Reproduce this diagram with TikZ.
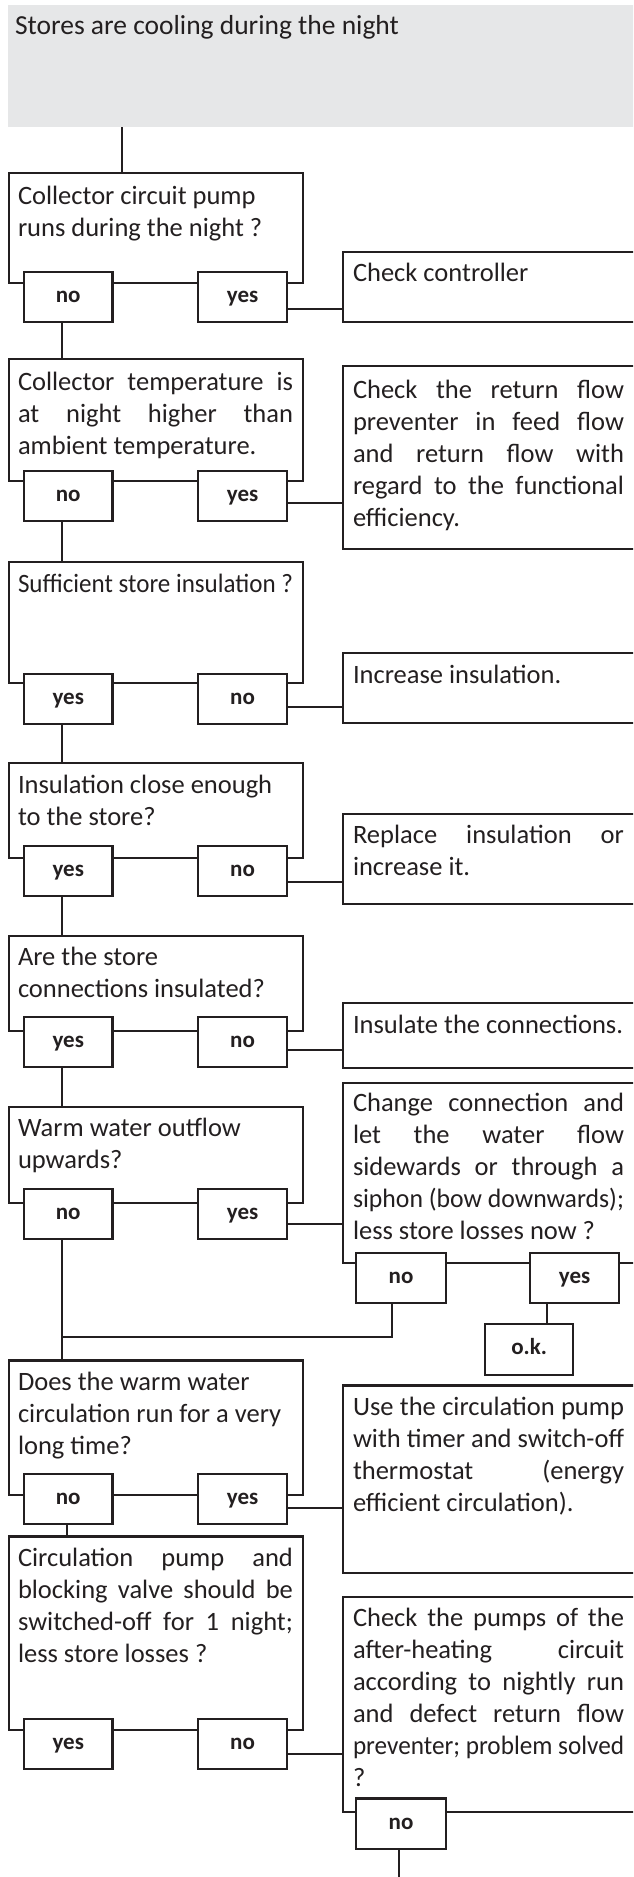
\documentclass[tikz,border=0pt]{standalone}
\usepackage{fontspec}
\usepackage{graphicx}
\setmainfont{Carlito}
\definecolor{ink}{HTML}{231F20}
\definecolor{headgray}{HTML}{E6E7E8}
\newcommand{\fst}{\spaceskip=0pt\xspaceskip=0pt\relax\rule{0pt}{22pt}}
\newcommand{\jline}[2]{\sbox0{#2}\ifdim\wd0>#1\relax\resizebox{#1}{\height}{#2}\else\makebox[#1][s]{\spaceskip=\fontdimen2\font plus 1fil\relax #2}\fi}
\newcommand{\qj}[1]{\jline{275pt}{#1}}
\newcommand{\aj}[1]{\jline{271pt}{#1}}
\begin{document}
\begin{tikzpicture}[x=1pt,y=-1pt,
  every node/.style={outer sep=0pt},
  frame/.style={draw=ink, line width=2.2pt, rectangle, anchor=north west, inner sep=0pt},
  qframe/.style={frame, minimum width=294.3pt},
  aframe/.style={frame, minimum width=300pt},
  ans/.style={draw=ink, fill=white, line width=2.2pt, minimum width=88.5pt, minimum height=50pt,
    inner sep=0pt, font=\fontsize{23}{23}\selectfont\bfseries, text=ink, text height=10.8pt,
    text depth=0pt, anchor=north west},
  qtext/.style={anchor=north west, inner sep=0pt, text width=275pt, align=left,
    font=\fontsize{26.5}{32}\selectfont, text=ink},
  atext/.style={qtext, text width=271pt},
  link/.style={draw=ink, line width=2.2pt},
]
\useasboundingbox (0,0) rectangle (633,1877);
\clip (0,0) rectangle (633,1877);

% title
\node[fill=headgray, anchor=north west, minimum width=640pt, minimum height=121.7pt, inner sep=0pt] (title) at (8,5) {};
\node[qtext, text width=600pt, font=\fontsize{27.5}{32}\selectfont] (ttl) at (15,12) {\fst Stores are cooling during the night};

% Q1
\node[qframe, minimum height=110.6pt] (q1) at (9,172.7) {};
\node[qtext] (q1t) at (18,182) {\fst Collector circuit pump\\ runs during the night ?};
\node[ans] (q1n) at (24,271.7) {no};
\node[ans] (q1y) at (198.3,271.7) {yes};
\node[aframe, minimum height=70pt] (a1) at (343.3,251.7) {};
\node[atext] (a1t) at (353,259.7) {\fst Check controller};

% Q2
\node[qframe, minimum height=121.7pt] (q2) at (9,359.3) {};
\node[qtext] (q2t) at (18,368) {\fst\qj{Collector temperature is}\\ \qj{at night higher than}\\ ambient temperature.};
\node[ans] (q2n) at (24,471) {no};
\node[ans] (q2y) at (198.3,471) {yes};
\node[aframe, minimum height=183.3pt] (a2) at (343.3,366) {};
\node[atext] (a2t) at (353,376.3) {\fst\aj{Check the return flow}\\ \aj{preventer in feed flow}\\ \aj{and return flow with}\\ \aj{regard to the functional}\\ efficiency.};

% Q3
\node[qframe, minimum height=121pt] (q3) at (9,561.7) {};
\node[qtext, text width=320pt] (q3t) at (18,570) {\fst\qj{Sufficient store insulation ?}};
\node[ans] (q3y) at (24,674) {yes};
\node[ans] (q3n) at (198.3,674) {no};
\node[aframe, minimum height=70pt] (a3) at (343.3,652.7) {};
\node[atext] (a3t) at (353,661.3) {\fst Increase insulation.};

% Q4
\node[qframe, minimum height=95pt] (q4) at (9,763.3) {};
\node[qtext] (q4t) at (18,771.3) {\fst Insulation close enough\\ to the store?};
\node[ans] (q4y) at (24,846) {yes};
\node[ans] (q4n) at (198.3,846) {no};
\node[aframe, minimum height=90pt] (a4) at (343.3,814) {};
\node[atext] (a4t) at (353,821.3) {\fst\aj{Replace insulation or}\\ increase it.};

% Q5
\node[qframe, minimum height=95.3pt] (q5) at (9,935.7) {};
\node[qtext] (q5t) at (18,943) {\fst Are the store\\ connections insulated?};
\node[ans] (q5y) at (24,1017.3) {yes};
\node[ans] (q5n) at (198.3,1017.3) {no};
\node[aframe, minimum height=65pt] (a5) at (343.3,1003.3) {};
\node[atext, text width=290pt] (a5t) at (353,1011.3) {\fst Insulate the connections.};

% Q6
\node[qframe, minimum height=96pt] (q6) at (9,1106.7) {};
\node[qtext] (q6t) at (18,1114.7) {\fst Warm water outflow\\ upwards?};
\node[ans] (q6n) at (24,1189.3) {no};
\node[ans] (q6y) at (198.3,1189.3) {yes};
\node[aframe, minimum height=180pt] (a6) at (343.3,1083.3) {};
\node[atext] (a6t) at (353,1089.7) {\fst\aj{Change connection and}\\ \aj{let the water flow}\\ \aj{sidewards or through a}\\ \aj{siphon (bow downwards);}\\ less store losses now ?};
\node[ans, minimum width=90pt] (a6n) at (356,1253.3) {no};
\node[ans, minimum width=89.3pt] (a6y) at (530,1253.3) {yes};
\node[ans, minimum width=88.3pt, minimum height=51pt] (ok) at (485,1324) {o.k.};

% Q7
\node[qframe, minimum height=134.5pt] (q7) at (9,1360.5) {};
\node[qtext, text width=290pt] (q7t) at (18,1368.7) {\fst Does the warm water\\ circulation run for a very\\ long time?};
\node[ans] (q7n) at (24,1474) {no};
\node[ans] (q7y) at (198.3,1474) {yes};
\node[aframe, minimum height=187.2pt] (a7) at (343.3,1385.5) {};
\node[atext] (a7t) at (353,1393) {\fst\aj{Use the circulation pump}\\ \aj{with timer and switch-off}\\ \aj{thermostat (energy}\\ efficient circulation).};

% Q8
\node[qframe, minimum height=193.5pt] (q8) at (9,1536.5) {};
\node[qtext] (q8t) at (18,1544.7) {\fst\qj{Circulation pump and}\\ \qj{blocking valve should be}\\ \qj{switched-off for 1 night;}\\ less store losses ?};
\node[ans] (q8y) at (24,1719.3) {yes};
\node[ans] (q8n) at (198.3,1719.3) {no};
\node[aframe, minimum height=215pt] (a8) at (343.3,1596.7) {};
\node[atext] (a8t) at (353,1604) {\fst\aj{Check the pumps of the}\\ \aj{after-heating circuit}\\ \aj{according to nightly run}\\ \aj{and defect return flow}\\ \aj{preventer; problem solved}\\ ?};
\node[ans, minimum width=90pt, minimum height=50.8pt] (a8n) at (356,1798.5) {no};

% connectors: vertical chain
\draw[link] ([xshift=113.3pt]q1.north west) -- ([xshift=113.3pt]q1.north west |- title.south);
\draw[link] ([xshift=-6pt]q1n.south) -- ([xshift=-6pt]q1n.south |- q2.north);
\draw[link] ([xshift=-6pt]q2n.south) -- ([xshift=-6pt]q2n.south |- q3.north);
\draw[link] ([xshift=-6pt]q3y.south) -- ([xshift=-6pt]q3y.south |- q4.north);
\draw[link] ([xshift=-6pt]q4y.south) -- ([xshift=-6pt]q4y.south |- q5.north);
\draw[link] ([xshift=-6pt]q5y.south) -- ([xshift=-6pt]q5y.south |- q6.north);
\draw[link] ([xshift=-6pt]q6n.south) -- ([xshift=-6pt]q6n.south |- q7.north);
\draw[link] ([xshift=-1.55pt]q7n.south) -- ([xshift=-1.55pt]q7n.south |- q8.north);
\coordinate (j6) at (62.25,1337.3);
\draw[link] ([xshift=-9.3pt]a6n.south) |- (j6);
\draw[link] ([xshift=-27.95pt]a6y.south) -- ([xshift=-27.95pt]a6y.south |- ok.north);
\coordinate (e8) at (399,1890);
\draw[link] (a8n.south -| e8) -- (e8);

% connectors: answers to actions
\draw[link] ([yshift=-12.6pt]q1y.east) -- ([yshift=-12.6pt]q1y.east -| a1.west);
\draw[link] ([yshift=-6.7pt]q2y.east) -- ([yshift=-6.7pt]q2y.east -| a2.west);
\draw[link] ([yshift=-8.3pt]q3n.east) -- ([yshift=-8.3pt]q3n.east -| a3.west);
\draw[link] ([yshift=-10.7pt]q4n.east) -- ([yshift=-10.7pt]q4n.east -| a4.west);
\draw[link] ([yshift=-7.7pt]q5n.east) -- ([yshift=-7.7pt]q5n.east -| a5.west);
\draw[link] ([yshift=-9.7pt]q6y.east) -- ([yshift=-9.7pt]q6y.east -| a6.west);
\draw[link] ([yshift=-9.3pt]q7y.east) -- ([yshift=-9.3pt]q7y.east -| a7.west);
\draw[link] ([yshift=-9.7pt]q8n.east) -- ([yshift=-9.7pt]q8n.east -| a8.west);
\end{tikzpicture}
\end{document}
